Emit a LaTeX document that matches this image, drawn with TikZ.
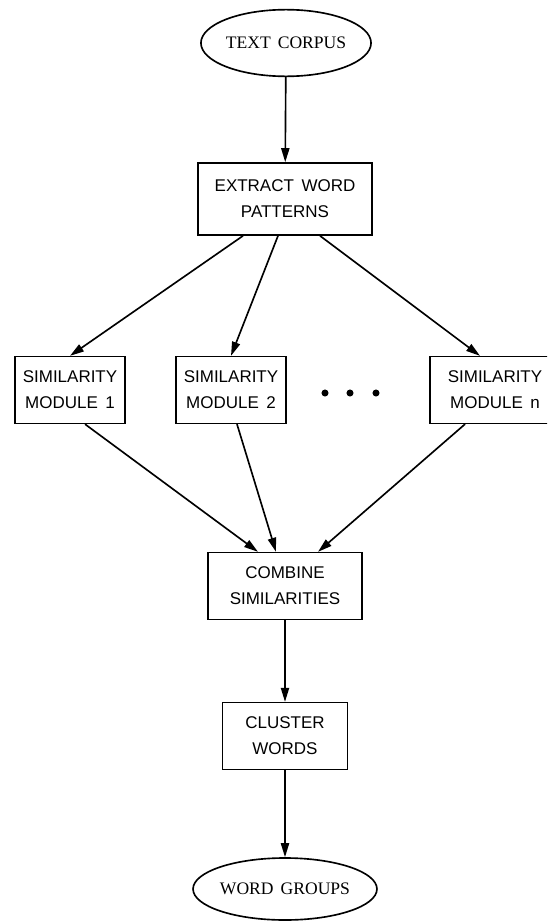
\documentclass[tikz,border=0pt]{standalone}
\usepackage{fontspec}
\setmainfont[WordSpace=1.6]{Liberation Serif}
\newfontfamily\boxfont[WordSpace=1.6]{Liberation Sans}
\usepackage{tikz}
\usetikzlibrary{positioning, arrows.meta, shapes.geometric}

\begin{document}
\begin{tikzpicture}[
    x=0.03cm, y=-0.03cm,
    >={Triangle[length=12pt,width=7pt]},
    flow/.style={line width=1.4pt, ->},
    stage/.style={
        draw, line width=1.4pt,
        font=\boxfont\fontsize{14.5}{22}\selectfont,
        align=center, inner sep=0pt
    },
    terminal/.style={
        draw, ellipse, line width=1.4pt, inner sep=0pt,
        font=\fontsize{15}{18}\selectfont
    }
]

\useasboundingbox (0,0) rectangle (547,923);
\clip (0,0) rectangle (547,923);

% ---- Input ----
\node[terminal, minimum width=4.5cm, minimum height=2cm] (corpus) at (286,43) {TEXT CORPUS};

\node[stage, minimum width=5.22cm, minimum height=2.16cm] (extract) at (285,199)
{EXTRACT WORD\\PATTERNS};

% ---- Similarity modules ----
\node[stage, minimum width=3.3cm, minimum height=2cm] (sim1) at (70,390)
{SIMILARITY\\MODULE 1};
\node[stage, minimum width=3.3cm, minimum height=2cm] (sim2) at (231,390)
{SIMILARITY\\MODULE 2};
\node[stage, minimum width=3.9cm, minimum height=2cm] (simn) at (495,390)
{SIMILARITY\\MODULE n};

% dots
\foreach \x/\name in {325/d1, 350/d2, 376/d3}
    \node[circle, fill, inner sep=0pt, minimum size=6pt] (\name) at (\x,393) {};

% ---- Output ----
\node[stage, minimum width=4.62cm, minimum height=2cm] (combine) at (285,586)
{COMBINE\\SIMILARITIES};

\node[stage, minimum width=3.75cm, minimum height=2cm] (cluster) at (285,736)
{CLUSTER\\WORDS};

\node[terminal, minimum width=4.62cm, minimum height=1.86cm] (groups) at (285,889) {WORD GROUPS};

% Arrows
\draw[flow] (corpus) -- (extract);
\draw[flow] ([xshift=-1.26cm]extract.south) -- (sim1.north);
\draw[flow] ([xshift=-0.21cm]extract.south) -- (sim2.north);
\draw[flow] ([xshift=1.05cm]extract.south) -- ([xshift=-0.45cm]simn.north);

\draw[flow] ([xshift=0.45cm]sim1.south) -- ([xshift=-0.81cm]combine.north);
\draw[flow] ([xshift=0.18cm]sim2.south) -- ([xshift=-0.27cm]combine.north);
\draw[flow] ([xshift=-0.9cm]simn.south) -- ([xshift=0.99cm]combine.north);

\draw[flow] (combine) -- (cluster);
\draw[flow] (cluster) -- (groups);

\end{tikzpicture}
\end{document}
